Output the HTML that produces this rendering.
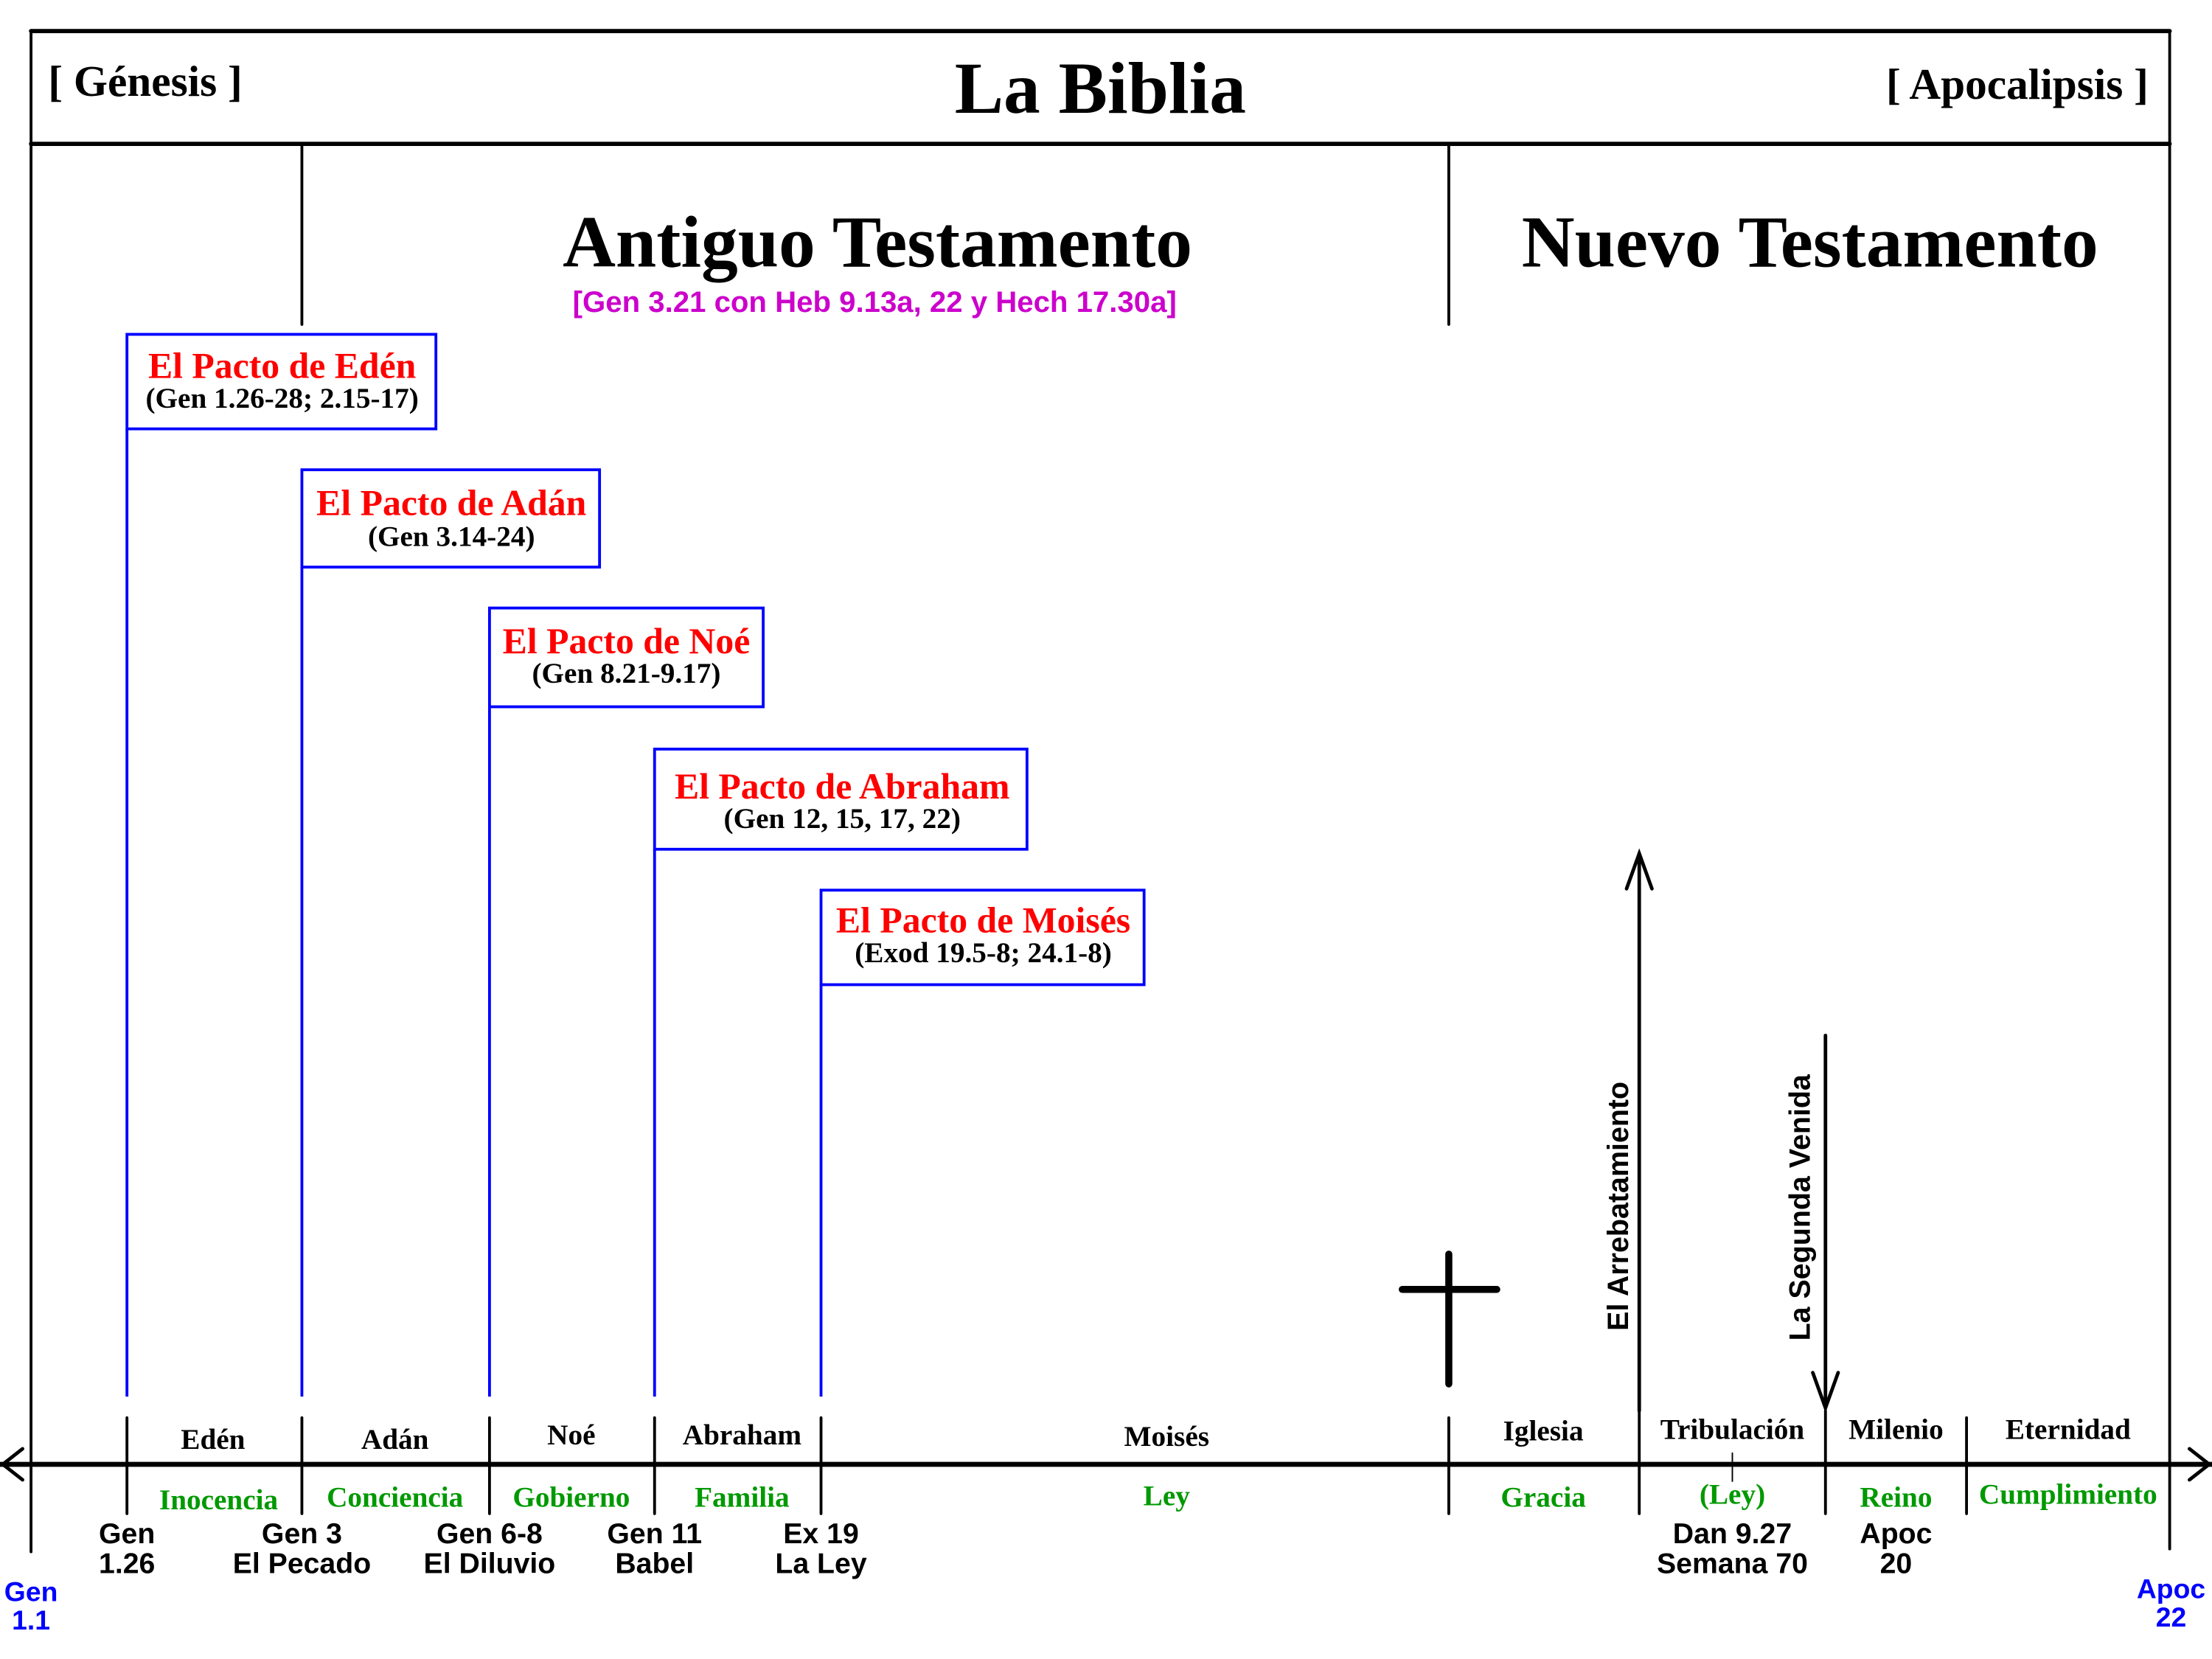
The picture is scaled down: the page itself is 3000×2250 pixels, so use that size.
<!DOCTYPE html>
<html><head><meta charset="utf-8"><style>
html,body{margin:0;padding:0;background:#fff;width:3000px;height:2250px;overflow:hidden}
svg{display:block}
.s{font-family:"Liberation Serif",serif;font-weight:bold}
.a{font-family:"Liberation Sans",sans-serif;font-weight:bold}
</style></head><body>
<svg width="3000" height="2250" viewBox="0 0 1568 1176" preserveAspectRatio="none" xmlns="http://www.w3.org/2000/svg">
<rect width="1568" height="1176" fill="#fff"/>
<g stroke="#000" fill="none" stroke-linecap="round">
<line x1="22" y1="22" x2="1538" y2="22" stroke-width="3"/>
<line x1="22" y1="102" x2="1538" y2="102" stroke-width="3"/>
<line x1="22" y1="22" x2="22" y2="1100" stroke-width="2"/>
<line x1="1538" y1="22" x2="1538" y2="1098" stroke-width="2"/>
<line x1="214" y1="102" x2="214" y2="230" stroke-width="2"/>
<line x1="1027" y1="102" x2="1027" y2="230" stroke-width="2"/>
<line x1="0" y1="1038" x2="1568" y2="1038" stroke-width="3.5"/>
<polyline points="16,1027 2,1038 16,1049" stroke-width="2.5"/>
<polyline points="1552,1027 1566,1038 1552,1049" stroke-width="2.5"/>
<g stroke-width="2">
<line x1="90" y1="1005" x2="90" y2="1073"/><line x1="214" y1="1005" x2="214" y2="1073"/>
<line x1="347" y1="1005" x2="347" y2="1073"/><line x1="464" y1="1005" x2="464" y2="1073"/>
<line x1="582" y1="1005" x2="582" y2="1073"/><line x1="1027" y1="1005" x2="1027" y2="1073"/>
<line x1="1162" y1="1000" x2="1162" y2="1073"/><line x1="1294" y1="1000" x2="1294" y2="1073"/>
<line x1="1394" y1="1005" x2="1394" y2="1073"/><line x1="1228" y1="1030" x2="1228" y2="1050" stroke-width="1"/>
</g>
<line x1="1027" y1="889" x2="1027" y2="981" stroke-width="5"/>
<line x1="994" y1="914" x2="1061" y2="914" stroke-width="5"/>
<line x1="1162" y1="1000" x2="1162" y2="605" stroke-width="2.5"/>
<polyline points="1153,630 1162,605 1171,630" stroke-width="2.5"/>
<line x1="1294" y1="734" x2="1294" y2="998" stroke-width="2.5"/>
<polyline points="1285,973 1294,998 1303,973" stroke-width="2.5"/>
</g>
<g stroke="#00f" fill="none" stroke-width="2">
<rect x="90" y="237" width="219" height="67"/><line x1="90" y1="304" x2="90" y2="990"/>
<rect x="214" y="333" width="211" height="69"/><line x1="214" y1="402" x2="214" y2="990"/>
<rect x="347" y="431" width="194" height="70"/><line x1="347" y1="501" x2="347" y2="990"/>
<rect x="464" y="531" width="264" height="71"/><line x1="464" y1="602" x2="464" y2="990"/>
<rect x="582" y="631" width="229" height="67"/><line x1="582" y1="698" x2="582" y2="990"/>
</g>
<g class="s" text-anchor="middle">
<text x="780" y="80" font-size="52">La Biblia</text>
<text x="103" y="68" font-size="31">[ Génesis ]</text>
<text x="1430" y="70" font-size="31">[ Apocalipsis ]</text>
<text x="622" y="189" font-size="52">Antiguo Testamento</text>
<text x="1283" y="189" font-size="52">Nuevo Testamento</text>
<g fill="#f00" font-size="26">
<text x="200" y="268">El Pacto de Edén</text>
<text x="320" y="365">El Pacto de Adán</text>
<text x="444" y="463">El Pacto de Noé</text>
<text x="597" y="566">El Pacto de Abraham</text>
<text x="697" y="661">El Pacto de Moisés</text>
</g>
<g font-size="20.5">
<text x="200" y="289">(Gen 1.26-28; 2.15-17)</text>
<text x="320" y="387">(Gen 3.14-24)</text>
<text x="444" y="484">(Gen 8.21-9.17)</text>
<text x="597" y="587">(Gen 12, 15, 17, 22)</text>
<text x="697" y="682">(Exod 19.5-8; 24.1-8)</text>
</g>
<g font-size="20.5">
<text x="151" y="1027">Edén</text><text x="280" y="1027">Adán</text><text x="405" y="1024">Noé</text>
<text x="526" y="1024">Abraham</text><text x="827" y="1025">Moisés</text><text x="1094" y="1021">Iglesia</text>
<text x="1228" y="1020">Tribulación</text><text x="1344" y="1020">Milenio</text><text x="1466" y="1020">Eternidad</text>
</g>
<g font-size="20.5" fill="#090">
<text x="155" y="1070">Inocencia</text><text x="280" y="1068">Conciencia</text><text x="405" y="1068">Gobierno</text>
<text x="526" y="1068">Familia</text><text x="827" y="1067">Ley</text><text x="1094" y="1068">Gracia</text>
<text x="1228" y="1066">(Ley)</text><text x="1344" y="1068">Reino</text><text x="1466" y="1066">Cumplimiento</text>
</g>
</g>
<g class="a" text-anchor="middle">
<text x="620" y="221" font-size="21" fill="#c0c">[Gen 3.21 con Heb 9.13a, 22 y Hech 17.30a]</text>
<g font-size="20.5" fill="#000">
<text x="90" y="1094">Gen</text><text x="90" y="1115">1.26</text>
<text x="214" y="1094">Gen 3</text><text x="214" y="1115">El Pecado</text>
<text x="347" y="1094">Gen 6-8</text><text x="347" y="1115">El Diluvio</text>
<text x="464" y="1094">Gen 11</text><text x="464" y="1115">Babel</text>
<text x="582" y="1094">Ex 19</text><text x="582" y="1115">La Ley</text>
<text x="1228" y="1094">Dan 9.27</text><text x="1228" y="1115">Semana 70</text>
<text x="1344" y="1094">Apoc</text><text x="1344" y="1115">20</text>
</g>
<g font-size="19.5" fill="#00f">
<text x="22" y="1135">Gen</text><text x="22" y="1155">1.1</text>
<text x="1539" y="1133">Apoc</text><text x="1539" y="1153">22</text>
</g>
<text transform="translate(1154,855) rotate(-90)" font-size="20.6" fill="#000">El Arrebatamiento</text>
<text transform="translate(1283,856) rotate(-90)" font-size="20.6" fill="#000">La Segunda Venida</text>
</g>
</svg>
</body></html>
